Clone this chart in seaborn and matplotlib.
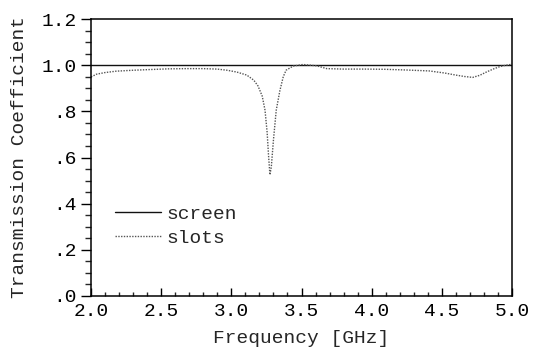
import numpy as np
import pandas as pd
import matplotlib
matplotlib.use("Agg")
import matplotlib.pyplot as plt
import seaborn as sns
from matplotlib.ticker import MultipleLocator

# ---- data ----
freq_slots = [2.00, 2.04, 2.10, 2.18, 2.30, 2.42, 2.55, 2.68, 2.80, 2.90, 2.97,
              3.04, 3.11, 3.16, 3.19, 3.22, 3.24, 3.255, 3.265, 3.275, 3.285,
              3.30, 3.32, 3.346, 3.37, 3.39, 3.44, 3.51, 3.61, 3.68, 3.80,
              3.95, 4.10, 4.25, 4.41, 4.52, 4.60, 4.66, 4.72, 4.77, 4.82,
              4.87, 4.91, 4.95, 5.00]
trans_slots = [0.949, 0.961, 0.968, 0.974, 0.978, 0.981, 0.984, 0.985, 0.985, 0.983, 0.978,
               0.970, 0.957, 0.935, 0.910, 0.866, 0.805, 0.710, 0.610, 0.525, 0.560,
               0.675, 0.805, 0.890, 0.950, 0.978, 0.996, 1.003, 0.997, 0.985, 0.983,
               0.983, 0.982, 0.979, 0.975, 0.966, 0.957, 0.951, 0.947, 0.956, 0.971,
               0.984, 0.993, 0.999, 1.004]
freq_screen = [2.0, 5.0]
trans_screen = [1.0, 1.0]

x_ticks = [2.0, 2.5, 3.0, 3.5, 4.0, 4.5, 5.0]
x_tick_labels = ["2.0", "2.5", "3.0", "3.5", "4.0", "4.5", "5.0"]
y_ticks = [0.0, 0.2, 0.4, 0.6, 0.8, 1.0, 1.2]
y_tick_labels = [".0", ".2", ".4", ".6", ".8", "1.0", "1.2"]

df = pd.concat([
    pd.DataFrame({"Frequency": freq_screen, "T": trans_screen, "series": "screen"}),
    pd.DataFrame({"Frequency": freq_slots, "T": trans_slots, "series": "slots"}),
])

sns.set_style("white")
plt.rcParams["font.family"] = ["Liberation Mono", "DejaVu Sans Mono"]

fig = plt.figure(figsize=(5.36, 3.5), dpi=100)
ax = fig.add_axes([91 / 536, 1 - 296 / 350, (512 - 91) / 536, (296 - 19) / 350])

sns.lineplot(data=df, x="Frequency", y="T", hue="series", style="series",
             palette={"screen": "#111111", "slots": "#555555"},
             dashes={"screen": "", "slots": (1, 1)},
             sort=False, estimator=None, ax=ax)
for line in ax.lines:
    line.set_linewidth(1.0)

ax.set_xlim(2.0, 5.0)
ax.set_ylim(0.0, 1.2)
ax.set_xticks(x_ticks)
ax.set_xticklabels(x_tick_labels)
ax.set_yticks(y_ticks)
ax.set_yticklabels(y_tick_labels)
ax.xaxis.set_minor_locator(MultipleLocator(0.1))
ax.yaxis.set_minor_locator(MultipleLocator(0.05))

ax.tick_params(axis="x", which="major", direction="in", length=6, width=1,
               labelsize=14, pad=5, colors="black", bottom=True)
ax.tick_params(axis="x", which="minor", direction="in", length=3, width=1, bottom=True)
ax.tick_params(axis="y", which="major", direction="out", length=7, width=1,
               labelsize=14, pad=3, colors="black", left=True)
ax.tick_params(axis="y", which="minor", direction="out", length=4, width=1, left=True)

for s in ax.spines.values():
    s.set_visible(True)
    s.set_color("black")
    s.set_linewidth(1.1)

ax.set_xlabel("Frequency [GHz]", fontsize=14, labelpad=7)
ax.set_ylabel("Transmission Coefficient", fontsize=14, labelpad=10)

leg = ax.legend(loc="upper left", bbox_to_anchor=(0.015, 0.39), frameon=False,
                fontsize=14, handlelength=2.4, handletextpad=0.25, labelspacing=0.3,
                title=None)
for h in leg.get_lines():
    h.set_linewidth(1.0)

fig.savefig("out.png", dpi=100)
